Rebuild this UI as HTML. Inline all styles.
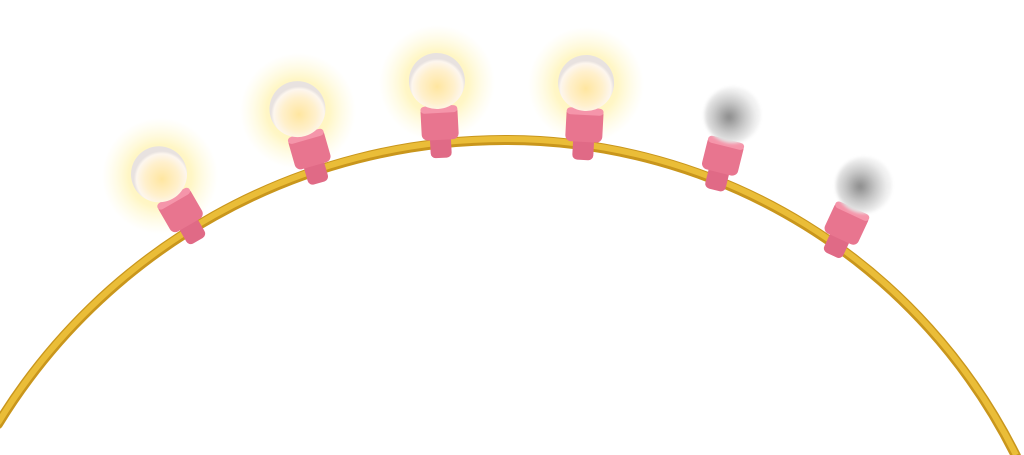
<!DOCTYPE html>
<html><head><meta charset="utf-8"><style>
html,body{margin:0;padding:0;background:#fff;width:1024px;height:455px;overflow:hidden}
</style></head><body>
<svg width="1024" height="455" viewBox="0 0 1024 455" xmlns="http://www.w3.org/2000/svg">
<defs>
<radialGradient id="glow"><stop offset="0" stop-color="#fff0a0" stop-opacity="0.95"/><stop offset="0.55" stop-color="#fff2a8" stop-opacity="0.65"/><stop offset="1" stop-color="#fff8c8" stop-opacity="0"/></radialGradient>
<radialGradient id="lit" cx="0.5" cy="0.6"><stop offset="0" stop-color="#ffe6a0"/><stop offset="0.6" stop-color="#fff0cc"/><stop offset="0.9" stop-color="#fdf6ee"/><stop offset="1" stop-color="#e8e2e0"/></radialGradient>
<radialGradient id="off" cx="0.45" cy="0.55"><stop offset="0" stop-color="#8a8a8a"/><stop offset="0.55" stop-color="#c8c8c8"/><stop offset="1" stop-color="#f2f2f2"/></radialGradient>
<filter id="blur"><feGaussianBlur stdDeviation="1.5"/></filter>
</defs>
<path d="M -2 424 A 595 595 0 0 1 505 140 A 570 570 0 0 1 1016 456" fill="none" stroke="#c9961c" stroke-width="10" stroke-linecap="round"/>
<path d="M -2 424 A 595 595 0 0 1 505 140 A 570 570 0 0 1 1016 456" fill="none" stroke="#eabd38" stroke-width="6" transform="translate(0,-1)"/>
<g id="bulbs"></g>
</svg>
<script>
const bulbs=[[160,176,-30,1],[298,111,-16,1],[437,83,-3,1],[586,85,3,1],[732,117,14,0],[863,187,25,0]];
const g=document.getElementById('bulbs');const ns='http://www.w3.org/2000/svg';
bulbs.forEach((b,i)=>{
 const [x,y,a,lit]=b;
 const grp=document.createElementNS(ns,'g');
 
 
 grp.setAttribute('transform',`translate(${x},${y}) rotate(${a})`);
 let h='';
 if(lit) h+=`<circle r="58" fill="url(#glow)"/>`;
 h+=`<rect x="-10" y="50" width="21" height="25" rx="5" fill="#e06a86"/><rect x="-18" y="23" width="37" height="34" rx="6" fill="#e8758f"/><rect x="-18" y="23" width="37" height="7" rx="4" fill="#f595aa"/>`;
 if(lit) h+=`<circle r="28" cy="-2" fill="url(#lit)"/>`;
 else h+=`<circle r="28" cy="-2" fill="url(#off)" filter="url(#blur)"/>`;
 grp.innerHTML=h;g.appendChild(grp);
});
</script>
</body></html>
